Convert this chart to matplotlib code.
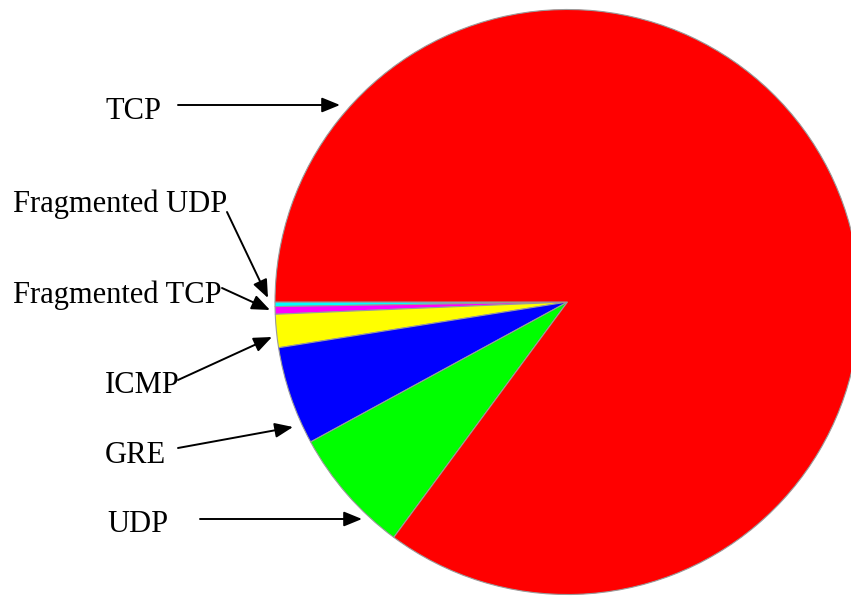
import matplotlib
matplotlib.use("Agg")
import matplotlib.pyplot as plt

# ── Data: share of traffic by protocol (in %) ───────────────────────────────────
PROTOCOLS = ["Fragmented UDP", "Fragmented TCP", "ICMP", "GRE", "UDP", "TCP"]
SHARES    = [0.25, 0.42, 1.83, 5.44, 6.94, 85.12]
COLORS    = ["#00FFFF", "#FF00FF", "#FFFF00", "#0000FF", "#00FF00", "#FF0000"]

# ── Label layout (pixel coords, y downwards) ──────────────────────────────────
LABEL_POS = {
    "TCP":            (105, 119),
    "Fragmented UDP": (13, 212),
    "Fragmented TCP": (13, 303),
    "ICMP":           (105, 393),
    "GRE":            (105, 463),
    "UDP":            (107, 532),
}
ARROWS = {
    "TCP":            ((178, 105), (340, 105)),
    "Fragmented UDP": ((227, 212), (268, 298)),
    "Fragmented TCP": ((222, 288), (270, 310)),
    "ICMP":           ((178, 380), (272, 337)),
    "GRE":            ((178, 448), (293, 427)),
    "UDP":            ((200, 519), (362, 519)),
}

W, H = 851, 596
CENTER = (567.5, 302)
RADIUS = 292.5


def main():
    fig = plt.figure(figsize=(W / 100, H / 100), dpi=100)
    ax = fig.add_axes([0, 0, 1, 1])

    ax.pie(SHARES, colors=COLORS, center=CENTER, radius=RADIUS,
           startangle=180, counterclock=False,
           wedgeprops=dict(edgecolor="#9a9a9a", linewidth=0.8))

    ax.set_xlim(0, W)
    ax.set_ylim(H, 0)
    ax.set_aspect("equal")
    ax.axis("off")

    for name, (x, y) in LABEL_POS.items():
        ax.text(x, y, name, ha="left", va="baseline",
                fontsize=22, family="Liberation Serif", color="black")
        start, tip = ARROWS[name]
        ax.annotate("", xy=tip, xytext=start,
                    arrowprops=dict(arrowstyle="-|>,head_length=1.1,head_width=0.45",
                                    color="black", lw=1.4,
                                    shrinkA=0, shrinkB=0, mutation_scale=10))

    plt.savefig("out.png", dpi=100, facecolor="white")


if __name__ == "__main__":
    main()
